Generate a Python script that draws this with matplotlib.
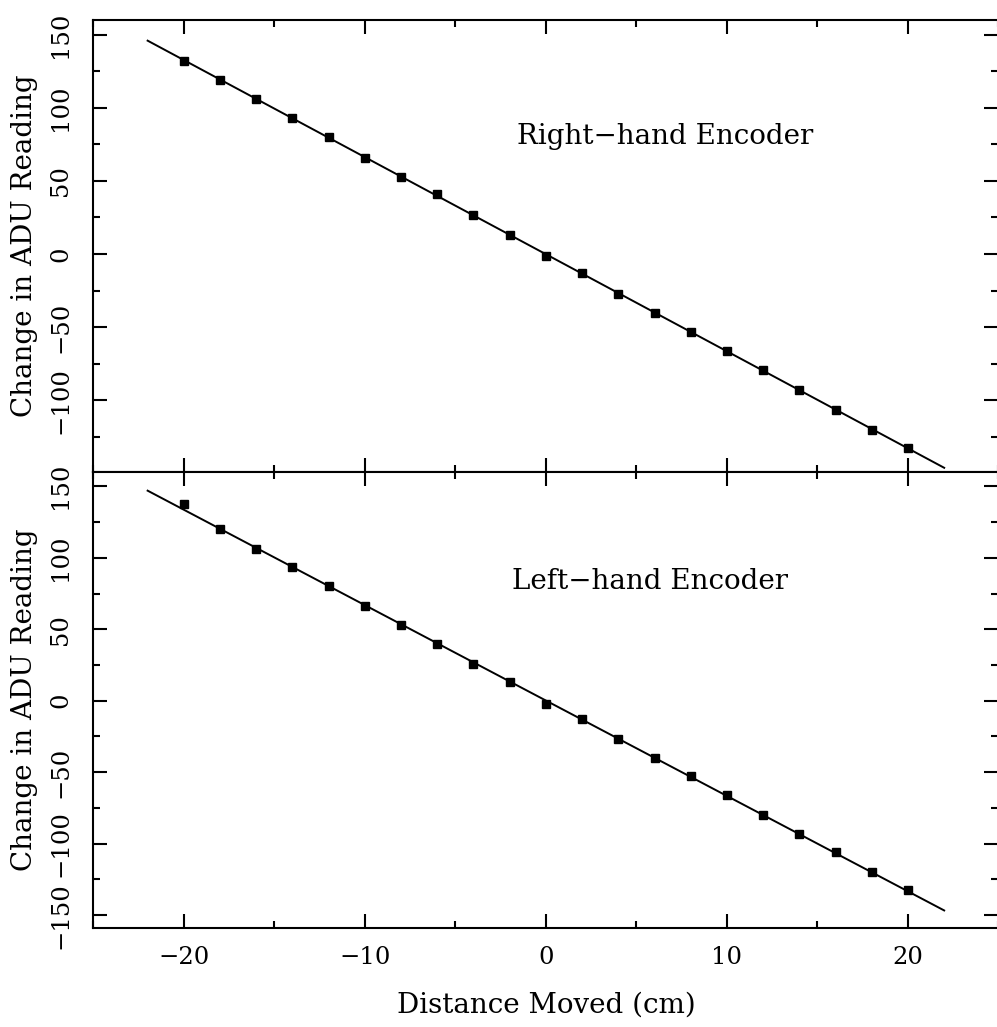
import numpy as np
import matplotlib
matplotlib.use("Agg")
import matplotlib.pyplot as plt
from matplotlib.ticker import MultipleLocator

# distance moved (cm)
distance = [-20, -18, -16, -14, -12, -10, -8, -6, -4, -2,
            0, 2, 4, 6, 8, 10, 12, 14, 16, 18, 20]

# change in ADU reading, right-hand encoder
right_adu = [132, 119, 106, 93, 80, 66, 53, 41, 27, 13,
             -1.5, -13, -27, -40, -53, -66, -79, -92.9, -106.8, -120.2, -132.9]

# change in ADU reading, left-hand encoder
left_adu = [137.5, 120, 106.3, 93.2, 80, 66, 53, 40, 26, 13,
            -2, -13, -27, -40, -53, -66, -80, -93, -106, -120, -132.6]

fit_range = [-22, 22]

plt.rcParams['font.family'] = ['DejaVu Serif']

fig = plt.figure(figsize=(9.97, 10.27), dpi=100)
left, right = 0.0936, 1.0015
top, mid, bottom = 0.9805, 0.5404, 0.0964
ax_top = fig.add_axes([left, mid, right - left, top - mid])
ax_bot = fig.add_axes([left, bottom, right - left, mid - bottom])


def style_axis(ax, ylim, show_x):
    ax.set_xlim(-25, 25)
    ax.set_ylim(*ylim)
    ax.xaxis.set_major_locator(MultipleLocator(10))
    ax.xaxis.set_minor_locator(MultipleLocator(5))
    ax.yaxis.set_major_locator(MultipleLocator(50))
    ax.yaxis.set_minor_locator(MultipleLocator(25))
    ax.tick_params(which='both', direction='in', top=True, right=True,
                   width=1.5, labelsize=17.5)
    ax.tick_params(which='major', length=10)
    ax.tick_params(which='minor', length=5)
    ax.tick_params(axis='x', pad=13, labelbottom=show_x)
    ax.tick_params(axis='y', pad=15)
    for lab in ax.get_yticklabels():
        lab.set_rotation(90)
        lab.set_va('center')
    for sp in ax.spines.values():
        sp.set_linewidth(1.5)
    ax.set_ylabel('Change in ADU Reading', fontsize=20)
    ax.yaxis.set_label_coords(-0.061, 0.5)


def draw_panel(ax, y):
    coef = np.polyfit(distance, y, 1)
    xs = np.array(fit_range)
    ax.plot(xs, np.polyval(coef, xs), color='black', lw=1.4)
    ax.plot(distance, y, ls='none', marker='s', ms=5.5, color='black')


draw_panel(ax_top, right_adu)
draw_panel(ax_bot, left_adu)

style_axis(ax_top, (-149, 160), False)
style_axis(ax_bot, (-159, 160), True)

ax_top.text(0.632, 0.742, 'Right\u2212hand Encoder', transform=ax_top.transAxes,
            ha='center', va='center', fontsize=20)
ax_bot.text(0.615, 0.759, 'Left\u2212hand Encoder', transform=ax_bot.transAxes,
            ha='center', va='center', fontsize=20)

ax_bot.set_xlabel('Distance Moved (cm)', fontsize=20)
ax_bot.xaxis.set_label_coords(0.5, -0.14)

fig.savefig('out.png', dpi=100)
